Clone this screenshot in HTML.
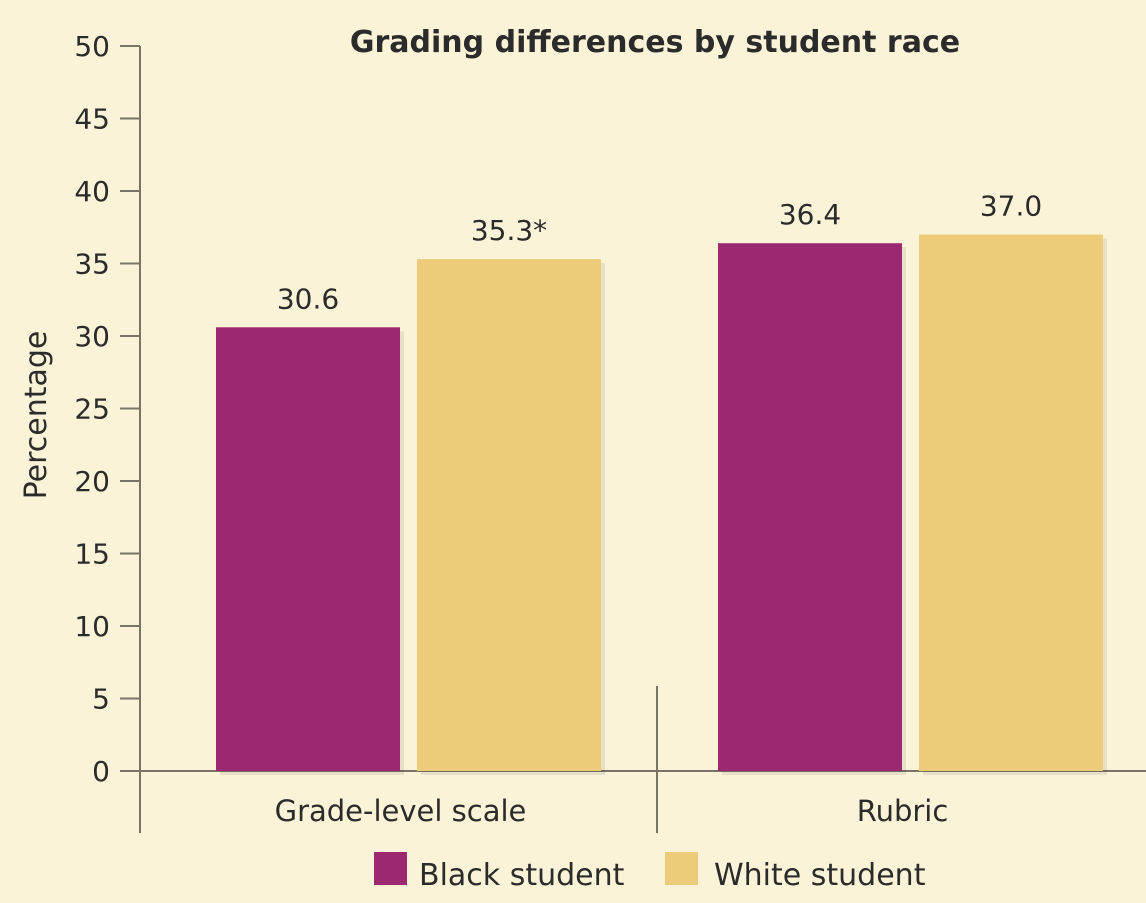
<!DOCTYPE html>
<html><head><meta charset="utf-8"><style>
html,body{margin:0;padding:0;background:#fbf3d7;}
svg{display:block;}
text{font-family:"DejaVu Sans","Liberation Sans",sans-serif;fill:#2b2b2b;}
</style></head><body>
<svg id="chart" width="1146" height="903">
<rect width="1146" height="903" fill="#fbf3d7"/>
<text x="655" y="52" font-size="30" font-weight="bold" text-anchor="middle">Grading differences by student race</text>
<text transform="translate(46,415) rotate(-90)" font-size="30" text-anchor="middle">Percentage</text>
<g id="axes"></g>
<g id="bars"></g>
<g>
<rect x="374" y="852" width="33" height="33" fill="#9c2870"/>
<text x="419" y="885" font-size="30">Black student</text>
<rect x="665" y="852" width="33" height="33" fill="#eecb78"/>
<text x="714" y="885" font-size="30">White student</text>
</g>
</svg>
<script>
const categories = ["Grade-level scale", "Rubric"];
const blackValues = [30.6, 36.4];
const whiteValues = [35.3, 37.0];
const blackLabels = ["30.6", "36.4"];
const whiteLabels = ["35.3*", "37.0"];
const yTicks = [0,5,10,15,20,25,30,35,40,45,50];

const NS = "http://www.w3.org/2000/svg";
const y0 = 771, yTop = 46, yMax = 50;
const yScale = v => y0 - (v / yMax) * (y0 - yTop);
const groupLeft = [216, 718];
const barW = 184, gap = 17;
function mk(tag, attrs, parent, txt){
  const e = document.createElementNS(NS, tag);
  for (const k in attrs) e.setAttribute(k, attrs[k]);
  if (txt !== undefined) e.textContent = txt;
  parent.appendChild(e); return e;
}
const axes = document.getElementById('axes');
const bars = document.getElementById('bars');
const stroke = "#7a7466";
yTicks.forEach(t => {
  const y = yScale(t);
  const tk = mk('line', {x1:120, x2:140, y1:y, y2:y, stroke:stroke, 'stroke-width':2}, axes);
  
  
  const lb = mk('text', {x:110, y:y+10, 'font-size':28, 'text-anchor':'end'}, axes, String(t));
  
  
});
const ya = mk('line', {x1:140, x2:140, y1:46, y2:833, stroke:stroke, 'stroke-width':2}, axes);


const sep = mk('line', {x1:657, x2:657, y1:686, y2:833, stroke:stroke, 'stroke-width':2}, axes);



categories.forEach((c, i) => {
  const bx = groupLeft[i], wx = bx + barW + gap;
  [[bx, blackValues[i], blackLabels[i], '#9c2870', 'bar-black-'], [wx, whiteValues[i], whiteLabels[i], '#eecb78', 'bar-white-']].forEach(d => {
    const top = yScale(d[1]);
    const sh = mk('rect', {x:d[0]+4, y:top+4, width:barW, height:y0-top, fill:'#000', opacity:0.08}, bars);
    
    
    const r = mk('rect', {x:d[0], y:top, width:barW, height:y0-top, fill:d[3]}, bars);
    
    
    const t = mk('text', {x:d[0]+barW/2, y:top-19, 'font-size':28, 'text-anchor':'middle'}, bars, d[2]);
    
    
  });
  const cl = mk('text', {x:bx + barW + gap/2 - 8, y:821, 'font-size':29, 'text-anchor':'middle'}, bars, c);
  
  
});
const xa = mk('line', {x1:120, x2:1146, y1:y0, y2:y0, stroke:stroke, 'stroke-width':2}, axes);


</script>
</body></html>
